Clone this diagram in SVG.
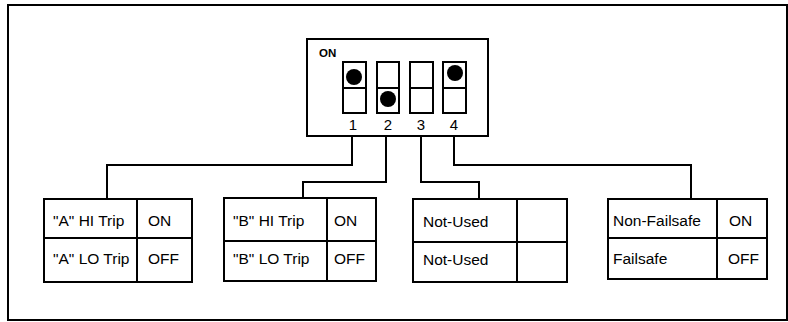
<svg xmlns="http://www.w3.org/2000/svg" width="788" height="322" viewBox="0 0 788 322">
<style>
.ln{fill:none;stroke:#000;stroke-width:2}
.t{font-family:"Liberation Sans",Arial,sans-serif;font-size:15.5px;fill:#000}
.n{font-family:"Liberation Sans",Arial,sans-serif;font-size:15px;fill:#000;text-anchor:middle}
</style>
<rect x="0" y="0" width="788" height="322" fill="#fff"/>
<rect class="ln" x="8" y="5" width="779" height="315" stroke-width="2.5"/>
<g id="dip-switch">
<rect class="ln" x="307" y="39" width="181" height="97"/>
<text x="319" y="57" style="font-family:'Liberation Sans',Arial,sans-serif;font-size:11.5px;font-weight:bold">ON</text>
<rect class="ln" x="343" y="62" width="23" height="51"/><line class="ln" x1="343" y1="88" x2="366" y2="88"/>
<rect class="ln" x="377" y="62" width="22" height="51"/><line class="ln" x1="377" y1="88" x2="399" y2="88"/>
<rect class="ln" x="410" y="62" width="23" height="51"/><line class="ln" x1="410" y1="88" x2="433" y2="88"/>
<rect class="ln" x="443" y="62" width="23" height="51"/><line class="ln" x1="443" y1="88" x2="466" y2="88"/>
<circle cx="354" cy="77" r="8"/>
<circle cx="388" cy="99" r="8"/>
<circle cx="455" cy="73" r="8"/>
<text class="n" x="353" y="130">1</text>
<text class="n" x="388" y="130">2</text>
<text class="n" x="421" y="130">3</text>
<text class="n" x="454" y="130">4</text>
</g>
<g id="connectors">
<polyline class="ln" points="352,136 352,165 107,165 107,199"/>
<polyline class="ln" points="386,136 386,182 303,182 303,198"/>
<polyline class="ln" points="421,136 421,182 479,182 479,199"/>
<polyline class="ln" points="454,136 454,165 691,165 691,199"/>
</g>
<g id="box-a">
<rect class="ln" x="44" y="199" width="148" height="83"/>
<line class="ln" x1="137" y1="199" x2="137" y2="282"/>
<line class="ln" x1="44" y1="238" x2="192" y2="238"/>
<text class="t" x="53" y="226">"A" HI Trip</text>
<text class="t" x="148" y="226">ON</text>
<text class="t" x="53" y="264">"A" LO Trip</text>
<text class="t" x="148" y="264">OFF</text>
</g>
<g id="box-b">
<rect class="ln" x="224" y="198" width="152" height="83"/>
<line class="ln" x1="327" y1="198" x2="327" y2="281"/>
<line class="ln" x1="224" y1="241" x2="376" y2="241"/>
<text class="t" x="233" y="226">"B" HI Trip</text>
<text class="t" x="334" y="226">ON</text>
<text class="t" x="233" y="264">"B" LO Trip</text>
<text class="t" x="334" y="264">OFF</text>
</g>
<g id="box-c">
<rect class="ln" x="413" y="199" width="154" height="83"/>
<line class="ln" x1="517" y1="199" x2="517" y2="282"/>
<line class="ln" x1="413" y1="242" x2="567" y2="242"/>
<text class="t" x="423" y="227">Not-Used</text>
<text class="t" x="423" y="265">Not-Used</text>
</g>
<g id="box-d">
<rect class="ln" x="608" y="199" width="159" height="80"/>
<line class="ln" x1="717" y1="199" x2="717" y2="279"/>
<line class="ln" x1="608" y1="238" x2="767" y2="238"/>
<text class="t" x="613" y="226">Non-Failsafe</text>
<text class="t" x="729" y="226">ON</text>
<text class="t" x="613" y="264">Failsafe</text>
<text class="t" x="728" y="264">OFF</text>
</g>
</svg>
